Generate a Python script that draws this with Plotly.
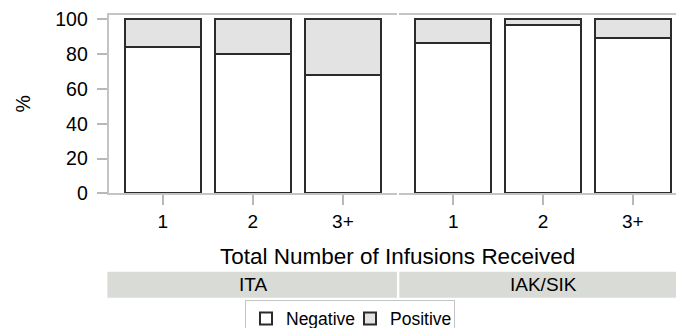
import plotly.graph_objects as go

# data (percent of patients)
infusions = ["1", "2", "3+"]
groups = ["ITA", "IAK/SIK"]
negative_ita = [84, 80, 68]
positive_ita = [16, 20, 32]
negative_iak = [86.5, 97, 89]
positive_iak = [13.5, 3, 11]
y_ticks = [0, 20, 40, 60, 80, 100]

W, H = 676, 328
FONT = "Liberation Sans, Arial, sans-serif"
LINE = '#c4c4c4'
EDGE = '#2b2b2b'


def px(x):
    return x / W


def py(y):
    return 1 - y / H


fig = go.Figure()
panels = [('x', 'y', negative_ita, positive_ita, True),
          ('x2', 'y2', negative_iak, positive_iak, False)]
for xa, ya, neg, pos, show in panels:
    fig.add_trace(go.Bar(
        x=infusions, y=neg, name='Negative', xaxis=xa, yaxis=ya,
        legendgroup='neg', showlegend=show,
        marker=dict(color='white', line=dict(color=EDGE, width=2)),
    ))
    fig.add_trace(go.Bar(
        x=infusions, y=pos, name='Positive', xaxis=xa, yaxis=ya,
        legendgroup='pos', showlegend=show,
        marker=dict(color='#e3e3e3', line=dict(color=EDGE, width=2)),
    ))

xcommon = dict(type='category', showline=True, linecolor=LINE, linewidth=2,
               mirror=True, ticks='outside', ticklen=10, tickcolor='#b8b8b8',
               tickwidth=1.5, tickfont=dict(size=19, color='black'),
               ticklabelstandoff=0, showgrid=False, zeroline=False,
               fixedrange=True)

fig.update_layout(
    width=W, height=H,
    margin=dict(l=0, r=0, t=0, b=0, autoexpand=False),
    paper_bgcolor='white', plot_bgcolor='white',
    font=dict(family=FONT, color='black'),
    barmode='stack', bargap=0.155,
    xaxis=dict(domain=[px(108.7), px(397)], range=[-0.6, 2.6], anchor='y',
               **xcommon),
    xaxis2=dict(domain=[px(399.3), 1], range=[-0.6, 2.48], anchor='y2',
                **xcommon),
    yaxis=dict(domain=[py(193.3), py(15.3)], range=[0, 102.3], anchor='x',
               tickvals=y_ticks, showline=True, linecolor=LINE, linewidth=2,
               ticks='outside', ticklen=10, tickcolor='#b8b8b8', tickwidth=1.5,
               tickfont=dict(size=19.5, color='black'), ticklabelstandoff=5,
               showgrid=False, zeroline=False, fixedrange=True),
    yaxis2=dict(domain=[py(193.3), py(15.3)], range=[0, 102.3], anchor='x2',
                showticklabels=False, showline=False, showgrid=False,
                zeroline=False, fixedrange=True),
    legend=dict(orientation='h', x=px(245), y=py(299.5), xanchor='left',
                yanchor='top', bgcolor='white', bordercolor=LINE,
                borderwidth=1, font=dict(size=17.5, color='black'),
                traceorder='normal', entrywidth=59),
)

# strip bands under the axis title
fig.add_shape(type='rect', xref='paper', yref='paper',
              x0=px(107.4), x1=px(397), y0=py(297.7), y1=py(271.7),
              fillcolor='#d9dbd6', line=dict(width=0), layer='below')
fig.add_shape(type='rect', xref='paper', yref='paper',
              x0=px(399.3), x1=1, y0=py(297.7), y1=py(271.7),
              fillcolor='#d9dbd6', line=dict(width=0), layer='below')

labels = [(groups[0], 253, 284.7, 19),
          (groups[1], 543, 284.7, 19),
          ('Total Number of Infusions Received', 397.7, 256, 22.5)]
for text, x, y, size in labels:
    fig.add_annotation(text=text, xref='paper', yref='paper',
                       x=px(x), y=py(y), xanchor='center', yanchor='middle',
                       showarrow=False, font=dict(size=size))
fig.add_annotation(text='%', xref='paper', yref='paper', x=px(22),
                   y=py(104.5), xanchor='center', yanchor='middle',
                   showarrow=False, textangle=-90, font=dict(size=19.5))

# drop the default 8px page margin so the figure sits at the window corner
fig.write_html("out.html", config={'displayModeBar': False},
               post_script="document.body.style.margin='0';")
